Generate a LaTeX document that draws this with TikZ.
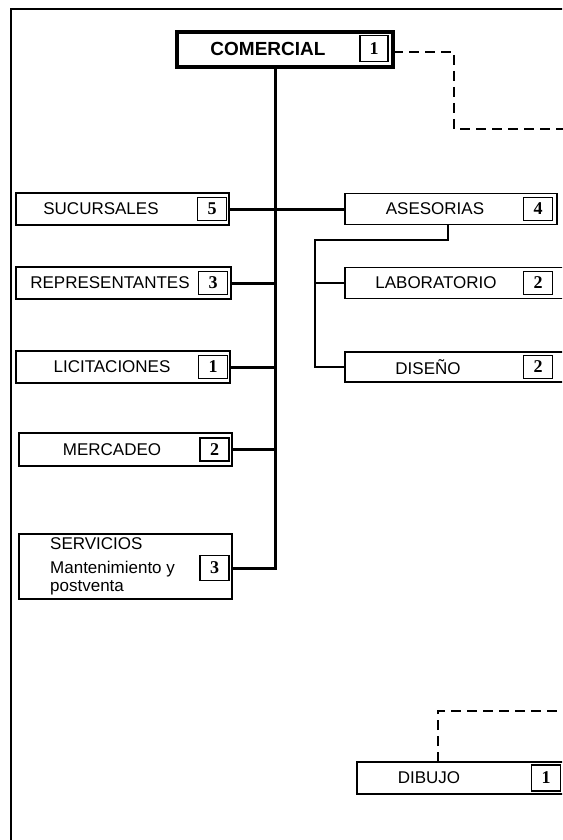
\documentclass[tikz,border=0pt]{standalone}
\usepackage{fontspec}
\setmainfont{Liberation Sans}
\newfontfamily\numfont{Liberation Serif}
\usetikzlibrary{backgrounds}
\begin{document}
\begin{tikzpicture}[x=1pt,y=-1pt,
  unit/.style={draw, line width=1.7pt, inner sep=0pt, outer sep=0pt, fill=white},
  numbox/.style={draw, line width=1.6pt, inner sep=0pt, outer sep=0pt,
    minimum width=29pt, minimum height=23pt,
    font=\numfont\bfseries\fontsize{18}{18}\selectfont},
  lbl/.style={inner sep=0pt, font=\fontsize{17}{18}\selectfont},
  trunk/.style={line width=3pt, line cap=rect},
  sub/.style={line width=1.5pt},
  link/.style={line width=1.6pt, dash pattern=on 10pt off 6pt}]
\useasboundingbox (0,0) rectangle (562,840);
\clip (0,0) rectangle (562,840);

% outer frame
\draw[line width=2.5pt] (11,860) -- (11,9) -- (600,9);

% head unit
\node[unit, line width=3.5pt, minimum width=216pt, minimum height=35pt] (com) at (285,49.5) {};
\node[numbox, minimum width=28pt, minimum height=26pt] (comn) at (374,48.5) {1};
\node[inner sep=0pt, font=\bfseries\fontsize{19}{20}\selectfont] (comt) at (268,49) {COMERCIAL};

% left column
\node[unit, minimum width=213pt, minimum height=32pt] (suc) at (122.5,209) {};
\node[numbox] (sucn) at (212,209) {5};
\node[lbl] (suct) at (101,209) {SUCURSALES};

\node[unit, minimum width=215pt, minimum height=32pt] (rep) at (123.5,283) {};
\node[numbox] (repn) at (213,283) {3};
\node[lbl] (rept) at (110,283) {REPRESENTANTES};

\node[unit, minimum width=214pt, minimum height=32pt] (lic) at (123,367) {};
\node[numbox] (licn) at (213,367) {1};
\node[lbl] (lict) at (112,367) {LICITACIONES};

\node[unit, minimum width=213pt, minimum height=33pt] (mer) at (125.5,449.5) {};
\node[numbox] (mern) at (214.5,449.5) {2};
\node[lbl] (mert) at (112,449.5) {MERCADEO};

\node[unit, minimum width=213pt, minimum height=65pt] (ser) at (125.5,566.5) {};
\node[numbox, minimum height=25pt] (sern) at (214.5,568) {3};
\node[lbl, anchor=base west] (sert1) at (50,549) {SERVICIOS};
\node[lbl, anchor=base west] (sert2) at (50,573) {Mantenimiento y};
\node[lbl, anchor=base west] (sert3) at (50,591) {postventa};

% right column
\node[unit, minimum width=212pt, minimum height=31pt] (ase) at (451,209) {};
\node[numbox] (asen) at (538,209) {4};
\node[lbl] (aset) at (435,209) {ASESORIAS};

\node[unit, minimum width=255pt, minimum height=31pt] (lab) at (472.5,283) {};
\node[numbox] (labn) at (538,283) {2};
\node[lbl] (labt) at (436,283) {LABORATORIO};

\node[unit, minimum width=255pt, minimum height=30pt] (dis) at (472.5,367) {};
\node[numbox] (disn) at (538,367) {2};
\node[lbl] (dist) at (428,367) {DISEÑO};

\node[unit, minimum width=263pt, minimum height=32pt] (dib) at (488.5,778) {};
\node[numbox, minimum height=26pt] (dibn) at (546,778) {1};
\node[lbl] (dibt) at (429,778) {DIBUJO};

\begin{pgfonlayer}{background}
% main trunk and branches
\coordinate (tb) at (275.5,568);
\draw[trunk] (com.south -| tb) -- (tb);
\draw[trunk] (suc.east) -- (ase.west);
\draw[trunk] (rep.east) -- (rep.east -| tb);
\draw[trunk] (lic.east) -- (lic.east -| tb);
\draw[trunk] (mer.east) -- (mer.east -| tb);
\draw[trunk] (ser.east |- tb) -- (tb);

% sub-units of ASESORIAS
\coordinate (split) at (448,240);
\coordinate (spine) at (315,240);
\draw[sub] (ase.south -| split) -- (split) -- (spine) |- (dis.west);
\draw[sub] (lab.west -| spine) -- (lab.west);

% dashed links
\coordinate (d1) at (454,129);
\coordinate (d1e) at (600,129);
\draw[link] (com.east |- 0,52) -| (d1) -- (d1e);
\coordinate (d2) at (438,711);
\coordinate (d2e) at (600,711);
\draw[link] (dib.north -| d2) -- (d2) -- (d2e);
\end{pgfonlayer}
\end{tikzpicture}
\end{document}
